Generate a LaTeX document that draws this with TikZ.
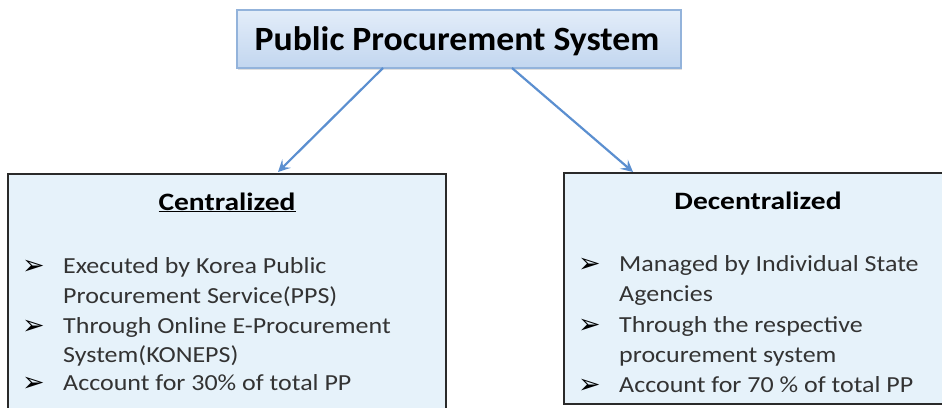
\documentclass[tikz,border=0pt]{standalone}
\usepackage{fontspec}
\setmainfont{Carlito}
\newfontfamily\dejavu{DejaVu Sans}
\usetikzlibrary{arrows.meta,shadows}
\definecolor{boxfill}{HTML}{E6F2FA}
\definecolor{boxline}{HTML}{2A2A2A}
\definecolor{titletop}{HTML}{E3EDF9}
\definecolor{titlebot}{HTML}{C2D6EF}
\definecolor{titleline}{HTML}{93B3DB}
\definecolor{arrowblue}{HTML}{5B8FD0}
\definecolor{txt}{HTML}{333333}
\tikzset{
  panel/.style={draw=boxline,line width=2pt,fill=boxfill},
  titlebox/.style={draw=titleline,line width=1.2pt,top color=titletop,bottom color=titlebot,
    drop shadow={shadow xshift=1pt,shadow yshift=-2pt,opacity=0.25}},
  link/.style={draw=arrowblue,line width=2.2pt,-{Stealth[length=12pt,width=12pt,inset=5pt]}},
  item/.style={anchor=base west,inner sep=0pt,xscale=1.13,font=\fontsize{23}{26}\selectfont,text=txt},
  bul/.style={anchor=base west,inner sep=0pt,font=\dejavu\fontsize{27}{30}\selectfont,text=black},
  head/.style={anchor=base,inner sep=0pt,xscale=1.18,font=\bfseries\fontsize{25}{28}\selectfont,text=black}
}
\begin{document}
\begin{tikzpicture}[x=1pt,y=-1pt]
\useasboundingbox (0,0) rectangle (942,407);
\clip (0,0) rectangle (942,407);
\fill[white] (0,0) rectangle (942,407);
% panels
\path[panel] (8,174) rectangle (446,420);
\path[panel] (564,173) rectangle (950,404);
\coordinate (cin) at (278,172);
\coordinate (din) at (633,172);
% title
\node[titlebox,minimum width=444pt,minimum height=58pt,inner sep=0pt] (top) at (459,39) {};
\node[anchor=base,inner sep=0pt,xscale=1.05,font=\bfseries\fontsize{34}{38}\selectfont] (toptxt) at (457,50) {Public Procurement System};
\coordinate (ls) at (383,68);
\coordinate (rs) at (512,68);
\draw[link] (ls) -- (cin);
\draw[link] (rs) -- (din);
% centralized
\node[head] (chead) at (227,210) {\underline{Centralized}};
\node[bul] (cb1) at (22,274) {➢};
\node[item] (c1) at (63,273) {Executed by Korea Public};
\node[item] (c2) at (63,303) {Procurement Service(PPS)};
\node[bul] (cb2) at (22,334) {➢};
\node[item] (c3) at (63,333) {Through Online E-Procurement};
\node[item] (c4) at (63,362) {System(KONEPS)};
\node[bul] (cb3) at (22,391) {➢};
\node[item] (c5) at (63,390) {Account for 30\% of total PP};
% decentralized
\node[head] (dhead) at (758,209) {Decentralized};
\node[bul] (db1) at (578,272) {➢};
\node[item] (d1) at (619,271) {Managed by Individual State};
\node[item] (d2) at (619,301) {Agencies};
\node[bul] (db2) at (578,333) {➢};
\node[item] (d3) at (619,332) {Through the respective};
\node[item] (d4) at (619,362) {procurement system};
\node[bul] (db3) at (578,393) {➢};
\node[item] (d5) at (619,392) {Account for 70 \% of total PP};
\end{tikzpicture}
\end{document}
